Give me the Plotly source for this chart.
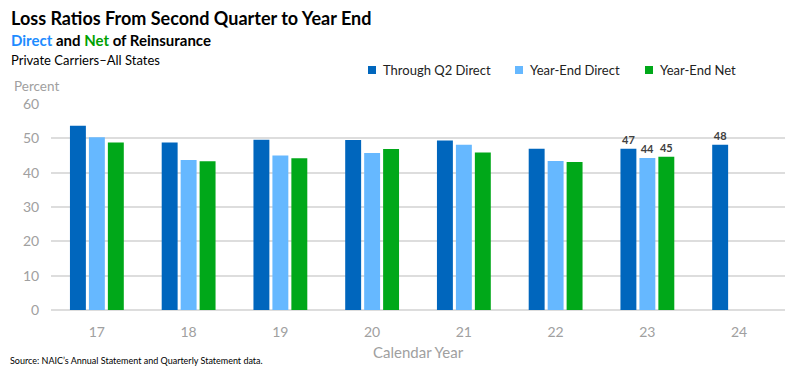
import plotly.graph_objects as go

years = ["17", "18", "19", "20", "21", "22", "23", "24"]
series_names = ["Through Q2 Direct", "Year-End Direct", "Year-End Net"]
q2_direct = [53.7, 48.8, 49.6, 49.5, 49.4, 47.0, 47.0, 48.1]
ye_direct = [50.3, 43.7, 45.0, 45.7, 48.1, 43.4, 44.3, None]
ye_net = [48.8, 43.3, 44.2, 46.9, 45.9, 43.1, 44.6, None]
labeled_years = ["23", "24"]
y_ticks = [0, 10, 20, 30, 40, 50, 60]

colors = ["#0066BD", "#66B8FF", "#00A819"]
FONT = "Lato"

OFF = 8  # page body margin
W, H = 800 - OFF, 372 - OFF
L, T = 51 - OFF, 104 - OFF
R = W - (785 - OFF)
B = H - (310 - OFF)
pw, ph = W - L - R, H - T - B


def px(x):
    return (x - OFF - L) / pw


def py(y):
    return (H - B - (y - OFF)) / ph


fig = go.Figure()
for name, vals, col in zip(series_names, [q2_direct, ye_direct, ye_net], colors):
    text = [
        (f"<b>{v:.0f}</b>" if (v is not None and yr in labeled_years) else "")
        for yr, v in zip(years, vals)
    ]
    fig.add_trace(go.Bar(
        x=years, y=vals, name=name,
        marker=dict(color=col, line=dict(width=0)),
        text=text, textposition="outside", cliponaxis=False,
        textfont=dict(family=FONT, size=11, color="#404040"),
        showlegend=False,
    ))

fig.update_layout(
    width=W, height=H,
    margin=dict(l=L, r=R, t=T, b=B, autoexpand=False),
    barmode="group", bargap=0.38, bargroupgap=0.16,
    plot_bgcolor="white", paper_bgcolor="white",
    font=dict(family=FONT, color="#999999"),
    xaxis=dict(
        automargin=False,
        tickfont=dict(size=14, color="#A0A0A0"),
        showline=False, ticks="outside", ticklen=9, tickcolor="rgba(0,0,0,0)",
    ),
    yaxis=dict(
        automargin=False,
        range=[0, 60], tickvals=y_ticks,
        tickfont=dict(size=14, color="#A0A0A0"),
        gridcolor="#DDDDDD", gridwidth=1.5,
        zeroline=True, zerolinecolor="#DDDDDD", zerolinewidth=1.5,
        ticklen=8, tickcolor="rgba(0,0,0,0)", ticks="outside",
    ),
)

ann = []
ann.append(dict(text="<b>Loss Ratios From Second Quarter to Year End</b>",
                x=px(9), y=py(18), xanchor="left", yanchor="middle",
                font=dict(size=18, color="black", family=FONT)))
ann.append(dict(text="<b><span style='color:#1E8CFF'>Direct</span> and <span style='color:#00A000'>Net</span> of Reinsurance</b>",
                x=px(9), y=py(40), xanchor="left", yanchor="middle",
                font=dict(size=15, color="black", family=FONT)))
ann.append(dict(text="Private Carriers\u2013All States",
                x=px(9), y=py(60), xanchor="left", yanchor="middle",
                font=dict(size=13, color="black", family=FONT)))
ann.append(dict(text="Percent", x=px(12), y=py(86), xanchor="left", yanchor="middle",
                font=dict(size=13.5, color="#A0A0A0", family=FONT)))
ann.append(dict(text="Calendar Year", x=px(418), y=py(352), xanchor="center", yanchor="middle",
                font=dict(size=15, color="#A0A0A0", family=FONT)))
ann.append(dict(text="Source: NAIC\u2019s Annual Statement and Quarterly Statement data.",
                x=px(8), y=py(360), xanchor="left", yanchor="middle",
                font=dict(size=9, color="black", family=FONT)))

legend_x = [372, 519, 649]
shapes = []
for name, col, lx in zip(series_names, colors, legend_x):
    shapes.append(dict(type="rect", xref="paper", yref="paper",
                       x0=px(lx - 4), x1=px(lx + 4), y0=py(74), y1=py(66),
                       fillcolor=col, line=dict(width=0)))
    ann.append(dict(text=name, x=px(lx + 9), y=py(70), xanchor="left", yanchor="middle",
                    font=dict(size=13, color="#222222", family=FONT)))

for a in ann:
    a.update(xref="paper", yref="paper", showarrow=False)
fig.update_layout(annotations=ann, shapes=shapes)

fig.write_html("out.html")
